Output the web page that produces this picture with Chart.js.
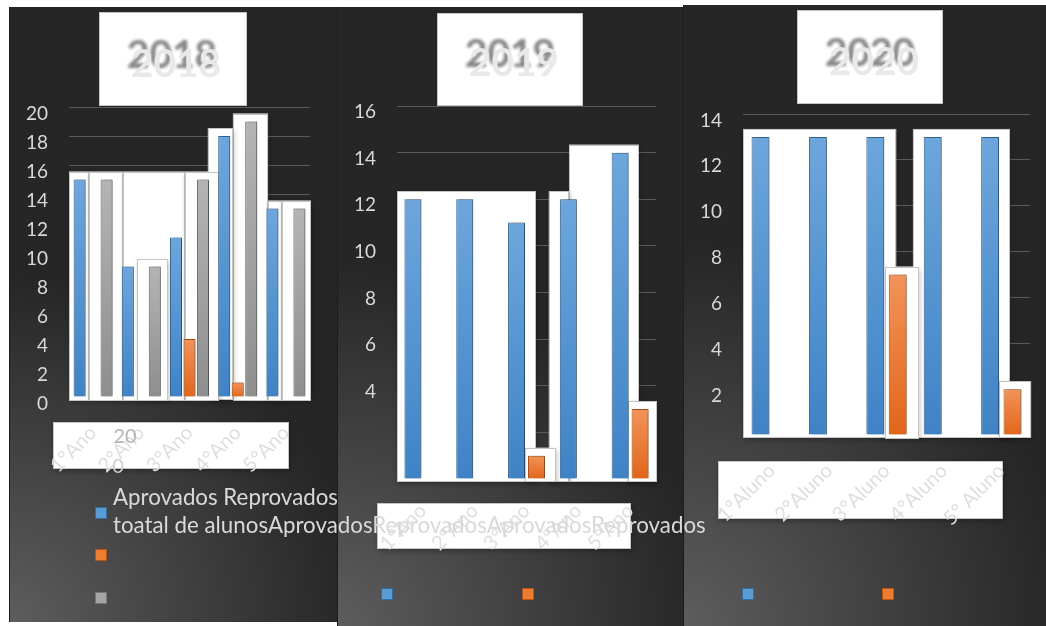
<!DOCTYPE html>
<html>
<head>
<meta charset="utf-8">
<script src="https://cdn.jsdelivr.net/npm/chart.js@4.4.1/dist/chart.umd.min.js"></script>
<style>
  html, body { margin: 0; padding: 0; background: #ffffff; }
  #wrap { position: relative; width: 1046px; height: 626px; overflow: hidden; }
  #wrap canvas { position: absolute; left: 0; top: 0; }
</style>
</head>
<body>
<div id="wrap">
  <canvas id="c2020" width="1046" height="626"></canvas>
  <canvas id="c2019" width="1046" height="626"></canvas>
  <canvas id="c2018" width="1046" height="626"></canvas>
</div>
<script>
// ---- data ----
const years = ['2018', '2019', '2020'];
const turmas = ['1°Ano', '2°Ano', '3°Ano', '4°Ano', '5°Ano'];
const alunos = ['1°Aluno', '2°Aluno', '3°Aluno', '4°Aluno', '5° Aluno'];
const series2018 = ['Aprovados', 'Reprovados', 'toatal de alunos'];
const series2019 = ['Aprovados', 'Reprovados'];
const series2020 = ['Aprovados', 'Reprovados'];
const aprovados2018 = [15, 9, 11, 18, 13];
const reprovados2018 = [0, 0, 4, 1, 0];
const total2018 = [15, 9, 15, 19, 13];
const aprovados2019 = [12, 12, 11, 12, 14];
const reprovados2019 = [0, 0, 1, 0, 3];
const aprovados2020 = [13, 13, 13, 13, 13];
const reprovados2020 = [0, 0, 7, 0, 2];
const yMax = [20, 16, 14];
const yStep = 2;

// ---- styles ----
const BLUE = { top: '#6da6dc', bottom: '#3f83c6', line: '#3a6d9c', swatch: '#5b9bd5' };
const ORANGE = { top: '#f39359', bottom: '#e1661a', line: '#b4561a', swatch: '#ed7d31' };
const GREY = { top: '#b4b4b4', bottom: '#8e8e8e', line: '#767676', swatch: '#a5a5a5' };
const FONT = 'Lato, "Open Sans", "DejaVu Sans", sans-serif';
const TEXT = '#d9d9d9';

function barFill(pal) {
  return (c) => {
    const chart = c.chart;
    if (!chart.chartArea || c.type !== 'data') return pal.bottom;
    const y = chart.scales.y;
    const yt = y.getPixelForValue(c.raw);
    const yb = y.getPixelForValue(0);
    if (!(yb - yt > 0.5)) return pal.bottom;
    const g = chart.ctx.createLinearGradient(0, yt, 0, yb);
    g.addColorStop(0, pal.top);
    g.addColorStop(1, pal.bottom);
    return g;
  };
}

function series(label, values, pal, barPct) {
  return {
    label, data: values, swatch: pal.swatch, swatchLine: pal.line,
    backgroundColor: barFill(pal), borderColor: pal.line, borderWidth: 1,
    barPercentage: barPct
  };
}

function whiteBox(ctx, x0, y0, x1, y1, shadow) {
  ctx.save();
  if (shadow) {
    ctx.shadowColor = 'rgba(0,0,0,0.30)';
    ctx.shadowBlur = 5;
    ctx.shadowOffsetX = 1;
    ctx.shadowOffsetY = 2;
  }
  ctx.fillStyle = '#ffffff';
  ctx.fillRect(x0, y0, x1 - x0, y1 - y0);
  ctx.restore();
  ctx.save();
  ctx.strokeStyle = '#c4c4c4';
  ctx.lineWidth = 1;
  ctx.strokeRect(Math.round(x0) + 0.5, Math.round(y0) + 0.5, Math.round(x1 - x0) - 1, Math.round(y1 - y0) - 1);
  ctx.restore();
}

// background, framed plot pieces, title box, swatches
const panelPlugin = {
  id: 'panel',
  beforeDraw(chart, args, o) {
    const ctx = chart.ctx;
    const [x0, y0, x1, y1] = o.frame;
    ctx.save();
    const g = ctx.createRadialGradient(x0, y1, 0, x0, y1, (x1 - x0) * 1.05);
    g.addColorStop(0, '#5d5d5d');
    g.addColorStop(0.6, '#3c3c3c');
    g.addColorStop(1, '#262626');
    ctx.fillStyle = g;
    ctx.fillRect(x0, y0, x1 - x0, y1 - y0);
    ctx.fillStyle = '#1c1c1c';
    ctx.fillRect(x0, y0, 1, y1 - y0);
    ctx.restore();
    const lb = o.labelBox;
    whiteBox(ctx, lb[0], lb[1], lb[2], lb[3], true);
  },
  beforeDatasetsDraw(chart, args, o) {
    const { ctx, chartArea: a, scales: { y } } = chart;
    const n = chart.data.labels.length;
    const w = (a.right - a.left) / n;
    const base = y.getPixelForValue(0) + 3;
    o.backdrops.forEach(b => {
      const v = chart.data.datasets[b.ds].data[b.i];
      const top = y.getPixelForValue(v) - 8;
      whiteBox(ctx, a.left + b.from * w, top, a.left + b.to * w, base, true);
    });
  },
  beforeDatasetDraw(chart) {
    const c = chart.ctx;
    c.save();
    c.shadowColor = 'rgba(0,0,0,0.38)';
    c.shadowBlur = 4;
    c.shadowOffsetX = 2;
    c.shadowOffsetY = 0;
  },
  afterDatasetDraw(chart) {
    chart.ctx.restore();
  },
  afterDraw(chart, args, o) {
    const ctx = chart.ctx;
    const tb = o.titleBox;
    whiteBox(ctx, tb[0], tb[1], tb[2], tb[3], false);
    // embossed year
    ctx.save();
    ctx.font = 'bold 39px ' + FONT;
    ctx.textAlign = 'center';
    ctx.textBaseline = 'alphabetic';
    ctx.filter = 'blur(1.5px)';
    ctx.fillStyle = '#858585';
    ctx.fillText(o.title, o.titlePos[0], o.titlePos[1]);
    ctx.filter = 'blur(0.7px)';
    ctx.fillStyle = '#e9e9e9';
    ctx.fillText(o.title, o.titlePos[0] + 4, o.titlePos[1] + 9);
    ctx.restore();
    // legend swatches
    o.swatches.forEach((p, k) => {
      const ds = chart.data.datasets[k];
      ctx.save();
      ctx.fillStyle = ds.swatch;
      ctx.fillRect(p[0], p[1], 12, 12);
      ctx.strokeStyle = ds.swatchLine;
      ctx.lineWidth = 1;
      ctx.strokeRect(p[0] + 0.5, p[1] + 0.5, 11, 11);
      ctx.restore();
    });
    if (o.extra) o.extra(chart, ctx);
  }
};

function makeChart(id, labels, datasets, cfg) {
  return new Chart(document.getElementById(id), {
    type: 'bar',
    data: { labels, datasets },
    plugins: [panelPlugin],
    options: {
      responsive: false,
      animation: false,
      devicePixelRatio: 1,
      layout: { padding: cfg.padding },
      datasets: { bar: { categoryPercentage: cfg.catPct } },
      plugins: {
        legend: { display: false },
        title: { display: false },
        tooltip: { enabled: false },
        panel: cfg.panel
      },
      scales: {
        x: {
          grid: { display: false, drawTicks: false },
          border: { display: false },
          ticks: {
            color: '#dedede', font: { family: FONT, size: 20 },
            minRotation: 45, maxRotation: 45, autoSkip: false, padding: cfg.xPad
          },
          afterFit: s => { s.height = 100; }
        },
        y: {
          min: 0, max: cfg.max,
          grid: { color: '#5a5a5a', lineWidth: 1, drawTicks: false },
          border: { display: false },
          ticks: {
            stepSize: yStep, color: TEXT, font: { family: FONT, size: 19 },
            padding: 21, labelOffset: cfg.labelOffset,
            callback: cfg.tickText
          },
          afterFit: s => { s.width = 60; }
        }
      }
    }
  });
}

function draw() {
  // 2020
  makeChart('c2020', alunos, [
    series(series2020[0], aprovados2020, BLUE, 0.8),
    series(series2020[1], reprovados2020, ORANGE, 0.8)
  ], {
    padding: { left: 683, right: 16, top: 114, bottom: 91 },
    catPct: 0.78, max: yMax[2], xPad: 24, labelOffset: 6.5,
    tickText: v => (v === 0 ? '' : v),
    panel: {
      frame: [683, 5, 1046, 626],
      labelBox: [718, 461, 1003, 519],
      titleBox: [797, 10, 943, 104],
      title: years[2], titlePos: [870, 66],
      swatches: [[742, 588], [882, 588]],
      backdrops: [
        { from: 0, to: 2.67, ds: 0, i: 0 },
        { from: 2.96, to: 4.65, ds: 0, i: 3 },
        { from: 2.47, to: 3.07, ds: 1, i: 2 },
        { from: 4.46, to: 5.02, ds: 1, i: 4 }
      ]
    }
  });

  // 2019
  makeChart('c2019', turmas, [
    series(series2019[0], aprovados2019, BLUE, 0.85),
    series(series2019[1], reprovados2019, ORANGE, 0.85)
  ], {
    padding: { left: 337, right: 390, top: 106, bottom: 47 },
    catPct: 0.77, max: yMax[1], xPad: 20, labelOffset: 6,
    tickText: v => (v < 4 ? '' : v),
    panel: {
      frame: [337, 7, 683, 626],
      labelBox: [377, 503, 631, 549],
      titleBox: [437, 13, 583, 106],
      title: years[1], titlePos: [510, 67],
      swatches: [[381, 588], [522, 588]],
      backdrops: [
        { from: 3.32, to: 4.67, ds: 0, i: 4 },
        { from: 0, to: 2.68, ds: 0, i: 0 },
        { from: 2.93, to: 3.32, ds: 0, i: 3 },
        { from: 2.47, to: 3.07, ds: 1, i: 2 },
        { from: 4.46, to: 5.02, ds: 1, i: 4 }
      ]
    }
  });

  // 2018 (on top: its legend text runs across the other panels)
  makeChart('c2018', turmas, [
    series(series2018[0], aprovados2018, BLUE, 0.89),
    series(series2018[1], reprovados2018, ORANGE, 0.89),
    series(series2018[2], total2018, GREY, 0.89)
  ], {
    padding: { left: 9, right: 736, top: 107, bottom: 129 },
    catPct: 0.84, max: yMax[0], xPad: 24, labelOffset: 7,
    tickText: v => v,
    panel: {
      frame: [9, 7, 337, 622],
      labelBox: [53, 422, 289, 469],
      titleBox: [99, 12, 247, 106],
      title: years[0], titlePos: [172, 68],
      swatches: [[95, 507], [95, 549], [95, 592]],
      backdrops: [
        { from: 3.40, to: 4.13, ds: 2, i: 3 },
        { from: 2.88, to: 3.40, ds: 0, i: 3 },
        { from: 0, to: 0.415, ds: 0, i: 0 },
        { from: 0.415, to: 1.12, ds: 2, i: 0 },
        { from: 1.12, to: 2.41, ds: 2, i: 2 },
        { from: 1.41, to: 2.05, ds: 2, i: 1 },
        { from: 2.41, to: 3.11, ds: 2, i: 2 },
        { from: 4.13, to: 4.42, ds: 0, i: 4 },
        { from: 4.42, to: 5.02, ds: 2, i: 4 }
      ],
      extra(chart, ctx) {
        const y = chart.scales.y;
        ctx.save();
        ctx.font = '20px ' + FONT;
        ctx.textAlign = 'center';
        ctx.textBaseline = 'middle';
        ctx.fillStyle = '#b4b4b4';
        ctx.fillText(String(y.max), 125, 437);
        ctx.fillStyle = '#cfcfcf';
        ctx.fillText(String(y.min), 118, 467);
        // series names
        ctx.font = '22.3px ' + FONT;
        ctx.textAlign = 'left';
        ctx.textBaseline = 'alphabetic';
        ctx.fillStyle = TEXT;
        ctx.fillText(series2018[0] + ' ' + series2018[1], 113, 505);
        ctx.fillText(series2018[2] + series2019.join('') + series2020.join(''), 113, 533);
        ctx.restore();
      }
    }
  });
}

const ready = document.fonts && document.fonts.load
  ? Promise.all([document.fonts.load('20px Lato'), document.fonts.load('bold 39px Lato')]).catch(() => {})
  : Promise.resolve();
ready.then(draw);
</script>
</body>
</html>
